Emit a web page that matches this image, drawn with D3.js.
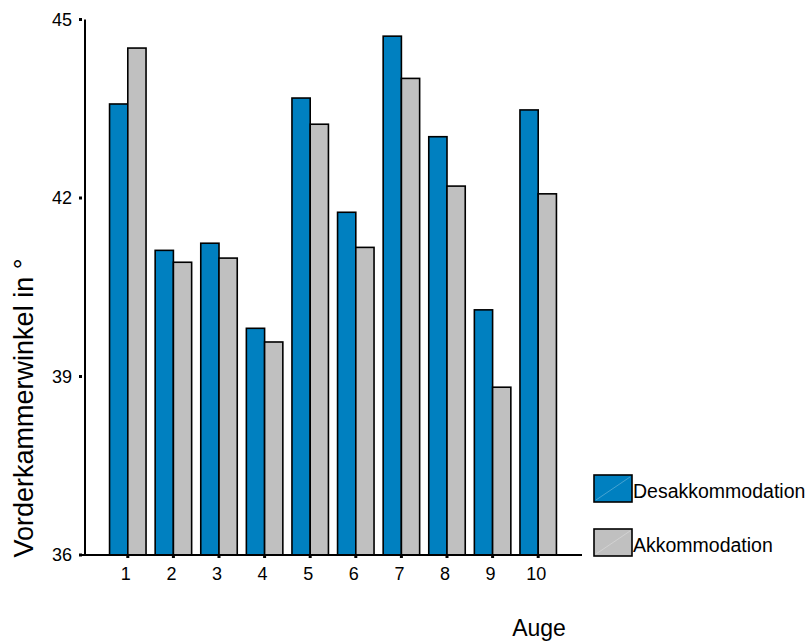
<!DOCTYPE html>
<html>
<head>
<meta charset="utf-8">
<script src="https://cdn.jsdelivr.net/npm/d3@7"></script>
<style>
body { margin: 0; background: #fff; }
text { font-family: "Liberation Sans", Arial, sans-serif; fill: #000; }
</style>
</head>
<body>
<div class="graph"></div>
<script>
// Daten
var augen = ["1", "2", "3", "4", "5", "6", "7", "8", "9", "10"];
var serien = ["Desakkommodation", "Akkommodation"];
var desakk = [43.58, 41.12, 41.24, 39.81, 43.68, 41.76, 44.72, 43.03, 40.12, 43.48];
var akk = [44.52, 40.92, 40.99, 39.58, 43.24, 41.17, 44.01, 42.20, 38.82, 42.07];
var yTicks = [36, 39, 42, 45];
var farben = ["#0080c0", "#c0c0c0"];

var width = 811, height = 643;

var svg = d3.select(".graph")
    .append("svg")
    .attr("width", width)
    .attr("height", height);

// Skalen
var x0 = d3.scaleBand()
    .domain(augen)
    .range([105, 561])
    .paddingInner(0.2)
    .paddingOuter(0.1);

var x1 = d3.scaleBand()
    .domain(serien)
    .range([0, x0.bandwidth()]);

var y = d3.scaleLinear()
    .domain([36, 45])
    .range([555, 19.5]);

var werte = [desakk, akk];

// Balken
var gruppen = svg.append("g")
    .selectAll("g")
    .data(augen)
    .enter()
    .append("g")
    .attr("transform", function(d) { return "translate(" + x0(d) + ",0)"; });

gruppen.selectAll("rect")
    .data(function(d, i) {
        return serien.map(function(s, j) { return { serie: s, wert: werte[j][i], idx: j }; });
    })
    .enter()
    .append("rect")
    .attr("x", function(d) { return x1(d.serie); })
    .attr("y", function(d) { return y(d.wert); })
    .attr("width", x1.bandwidth())
    .attr("height", function(d) { return y(36) - y(d.wert); })
    .style("fill", function(d) { return farben[d.idx]; })
    .style("stroke", "#000")
    .style("stroke-width", 1.6);

// y-Achse
svg.append("line")
    .attr("x1", 85).attr("x2", 85)
    .attr("y1", y(45)).attr("y2", y(36))
    .style("stroke", "#000").style("stroke-width", 2);

svg.selectAll(".ytick")
    .data(yTicks)
    .enter()
    .append("rect")
    .attr("class", "ytick")
    .attr("x", 79)
    .attr("y", function(d) { return y(d) - 1.5; })
    .attr("width", 3)
    .attr("height", 3)
    .style("fill", "#000");

svg.selectAll(".ylab")
    .data(yTicks)
    .enter()
    .append("text")
    .attr("class", "ylab")
    .attr("x", 72)
    .attr("y", function(d) { return y(d); })
    .attr("dy", "0.35em")
    .attr("text-anchor", "end")
    .attr("font-size", "18px")
    .text(function(d) { return d; });

// x-Achse
svg.append("line")
    .attr("x1", 82).attr("x2", 582)
    .attr("y1", 555).attr("y2", 555)
    .style("stroke", "#000").style("stroke-width", 2);

svg.selectAll(".xtick")
    .data(augen)
    .enter()
    .append("rect")
    .attr("class", "xtick")
    .attr("x", function(d) { return x0(d) + x0.bandwidth() / 2 - 1.5; })
    .attr("y", 555)
    .attr("width", 3)
    .attr("height", 3)
    .style("fill", "#000");

svg.selectAll(".xlab")
    .data(augen)
    .enter()
    .append("text")
    .attr("class", "xlab")
    .attr("x", function(d) { return x0(d) + x0.bandwidth() / 2 - 2; })
    .attr("y", 580)
    .attr("text-anchor", "middle")
    .attr("font-size", "18px")
    .text(function(d) { return d; });

// Achsentitel
svg.append("text")
    .attr("x", 539)
    .attr("y", 636)
    .attr("text-anchor", "middle")
    .attr("font-size", "23px")
    .text("Auge");

svg.append("text")
    .attr("transform", "translate(33,408) rotate(-90)")
    .attr("text-anchor", "middle")
    .attr("font-size", "27px")
    .text("Vorderkammerwinkel in °");

// Legende
var legende = svg.append("g")
    .selectAll("g")
    .data(serien)
    .enter()
    .append("g")
    .attr("transform", function(d, i) { return "translate(594," + (475 + i * 54) + ")"; });

legende.append("rect")
    .attr("width", 38)
    .attr("height", 27)
    .style("fill", function(d, i) { return farben[i]; })
    .style("stroke", "#000")
    .style("stroke-width", 1.6);

legende.append("line")
    .attr("x1", 2).attr("y1", 25)
    .attr("x2", 36).attr("y2", 2)
    .style("stroke", "#ffffff")
    .style("stroke-opacity", 0.35)
    .style("stroke-width", 0.8);

legende.append("text")
    .attr("x", 39)
    .attr("y", 23)
    .attr("font-size", "19.5px")
    .text(function(d) { return d; });
</script>
</body>
</html>
